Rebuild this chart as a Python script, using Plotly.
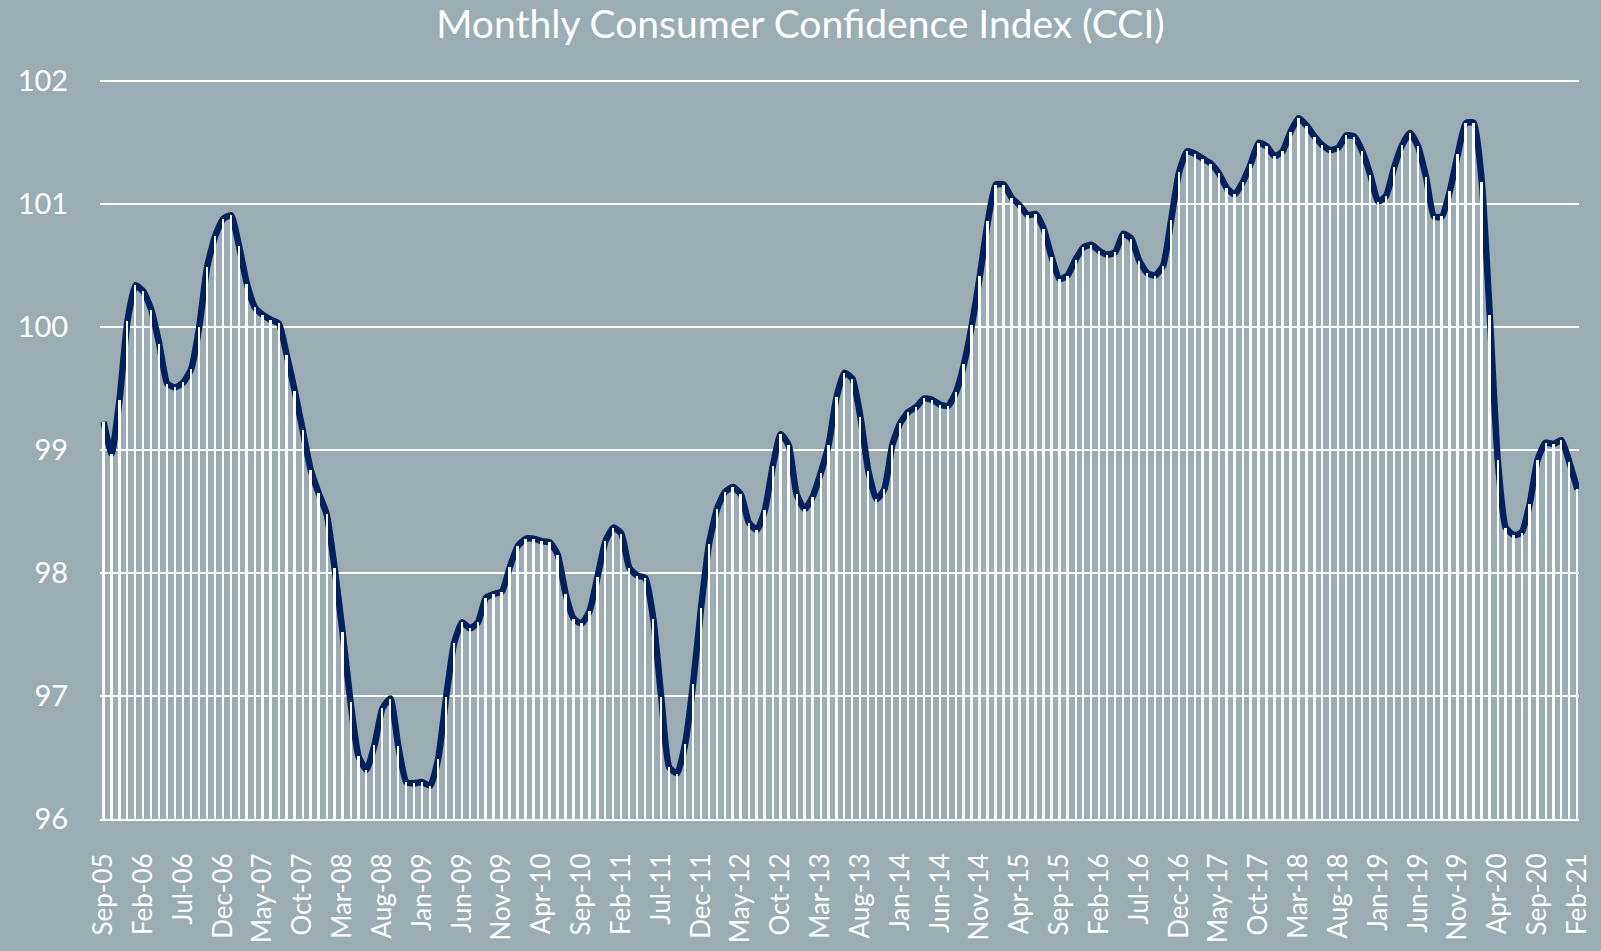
import pandas as pd
import plotly.graph_objects as go

# Monthly CCI values, Sep-2005 .. Feb-2021
cci_part1 = [99.23, 98.97, 99.41, 100.05, 100.34, 100.29, 100.14, 99.86, 99.54, 99.51,
             99.55, 99.66, 100.0, 100.49, 100.74, 100.88, 100.91, 100.66, 100.35, 100.16,
             100.10, 100.06, 100.03, 99.77, 99.48, 99.16, 98.84, 98.65, 98.48, 98.04,
             97.52, 96.95]
cci_part2 = [96.51, 96.40, 96.60, 96.90, 96.98, 96.59, 96.30, 96.29, 96.30, 96.27,
             96.49, 96.99, 97.43, 97.60, 97.55, 97.60, 97.80, 97.83, 97.85, 98.05,
             98.22, 98.28, 98.28, 98.26, 98.25, 98.15, 97.83, 97.63, 97.59, 97.69,
             97.97]
cci_part3 = [98.26, 98.37, 98.32, 98.04, 97.98, 97.96, 97.63, 96.99, 96.42, 96.37,
             96.61, 97.10, 97.72, 98.24, 98.52, 98.66, 98.70, 98.64, 98.41, 98.35,
             98.51, 98.87, 99.13, 99.04, 98.64, 98.52, 98.62, 98.81, 99.04, 99.43,
             99.63, 99.58]
cci_part4 = [99.27, 98.83, 98.60, 98.68, 99.04, 99.22, 99.31, 99.35, 99.42, 99.41,
             99.37, 99.36, 99.47, 99.70, 100.02, 100.42, 100.86, 101.16, 101.16, 101.05,
             100.99, 100.91, 100.92, 100.80, 100.57, 100.39, 100.42, 100.55, 100.65, 100.67,
             100.62]
cci_part5 = [100.59, 100.61, 100.76, 100.72, 100.54, 100.44, 100.42, 100.50, 100.87, 101.26,
             101.43, 101.41, 101.37, 101.33, 101.25, 101.13, 101.08, 101.18, 101.33, 101.50,
             101.47, 101.39, 101.43, 101.59, 101.70, 101.64, 101.55, 101.48, 101.44, 101.46,
             101.56, 101.55]
cci_part6 = [101.43, 101.24, 101.02, 101.07, 101.30, 101.48, 101.58, 101.47, 101.22, 100.90,
             100.90, 101.11, 101.41, 101.66, 101.66, 101.18, 100.10, 98.92, 98.37, 98.31,
             98.33, 98.56, 98.92, 99.06, 99.05, 99.08, 98.90, 98.68]

cci = cci_part1 + cci_part2 + cci_part3 + cci_part4 + cci_part5 + cci_part6

months = [d.strftime("%b-%y") for d in pd.date_range("2005-09-01", periods=len(cci), freq="MS")]

tick_labels = ["Sep-05", "Feb-06", "Jul-06", "Dec-06", "May-07", "Oct-07", "Mar-08", "Aug-08",
               "Jan-09", "Jun-09", "Nov-09", "Apr-10", "Sep-10", "Feb-11", "Jul-11", "Dec-11",
               "May-12", "Oct-12", "Mar-13", "Aug-13", "Jan-14", "Jun-14", "Nov-14", "Apr-15",
               "Sep-15", "Feb-16", "Jul-16", "Dec-16", "May-17", "Oct-17", "Mar-18", "Aug-18",
               "Jan-19", "Jun-19", "Nov-19", "Apr-20", "Sep-20", "Feb-21"]

BG = "#9AADB3"
NAVY = "#002060"
FONT = "Lato"

fig = go.Figure()

fig.add_trace(go.Scatter(
    x=months, y=cci, mode="lines",
    line=dict(color=NAVY, width=6.5, shape="spline", smoothing=0.5),
    xaxis="x", yaxis="y", showlegend=False, hoverinfo="x+y",
))
fig.add_trace(go.Bar(
    x=months, y=cci, width=0.25, marker=dict(color="white", line=dict(width=0)),
    xaxis="x2", yaxis="y2", showlegend=False, hoverinfo="skip",
))

x_range = [-0.45, len(cci) - 1 + 0.2]
y_range = [96, 102.01]

fig.update_layout(
    width=1601, height=951,
    paper_bgcolor=BG, plot_bgcolor=BG,
    margin=dict(l=100, r=22, t=80, b=132, autoexpand=False),
    font=dict(family=FONT, color="white", size=30),
    title=dict(text="Monthly Consumer Confidence Index (CCI)", x=0.5, xref="container",
               xanchor="center", y=1 - 24 / 951, yref="container", yanchor="middle",
               font=dict(family=FONT, size=39, color="white"), automargin=False),
    xaxis=dict(type="category", categoryorder="array", categoryarray=months,
               range=x_range, tickmode="array", tickvals=tick_labels, ticktext=tick_labels,
               tickangle=-90, showgrid=False, showline=True, linecolor="white", linewidth=2,
               ticks="outside", ticklen=22, tickcolor="rgba(0,0,0,0)", automargin=False,
               tickfont=dict(family=FONT, size=26, color="white"), zeroline=False),
    yaxis=dict(range=y_range, tickvals=[96, 97, 98, 99, 100, 101, 102], showgrid=True,
               gridcolor="white", gridwidth=2, zeroline=False, showline=False,
               ticks="outside", ticklen=25, tickcolor="rgba(0,0,0,0)", automargin=False,
               tickfont=dict(family=FONT, size=29, color="white")),
    xaxis2=dict(type="category", categoryorder="array", categoryarray=months,
                range=x_range, overlaying="x", visible=False),
    yaxis2=dict(range=y_range, overlaying="y", visible=False),
    bargap=0,
)

fig.write_html("out.html", config={"displayModeBar": False},
               post_script="document.body.style.margin='0';document.body.style.background='" + BG + "';")
